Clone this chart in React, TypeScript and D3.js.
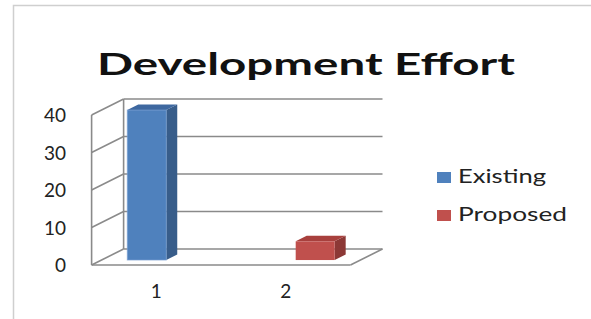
import React, { useEffect, useRef } from "react";
import * as d3 from "d3";

const categories = ["1", "2"];
const seriesNames = ["Existing", "Proposed"];
const existing = [40, 0];
const proposed = [0, 5];
const yTicks = [0, 10, 20, 30, 40];
const title = "Development Effort";

export default function App() {
  const ref = useRef<SVGSVGElement>(null);

  useEffect(() => {
    const svg = d3.select(ref.current);
    svg.selectAll("*").remove();

    const width = 591;
    const height = 319;
    const font = "Lato, 'Open Sans', sans-serif";

    // depth of the 3d box
    const dx = 32;
    const dy = -16;

    svg.append("rect").attr("width", width).attr("height", height).attr("fill", "#fff");

    // chart border
    svg
      .append("rect")
      .attr("x", 13.5)
      .attr("y", 5.5)
      .attr("width", 600)
      .attr("height", 330)
      .attr("fill", "none")
      .attr("stroke", "#cfcfcf")
      .attr("stroke-width", 1.5);

    svg
      .append("text")
      .attr("x", 97)
      .attr("y", 75)
      .attr("font-family", font)
      .attr("font-weight", "bold")
      .attr("font-size", 30)
      .attr("textLength", 418)
      .attr("lengthAdjust", "spacingAndGlyphs")
      .attr("fill", "#111")
      .text(title);

    const x = d3.scaleBand().domain(categories).range([91.6, 350.5]);
    const inner = d3
      .scaleBand()
      .domain(seriesNames)
      .range([0, x.bandwidth()])
      .paddingInner(0)
      .paddingOuter(0.66);
    const y = d3.scaleLinear().domain([0, 40]).range([265, 115]);

    const grid = svg.append("g").attr("stroke", "#8a8a8a").attr("stroke-width", 1.6).attr("fill", "none");
    const x0 = x.range()[0];
    const x1 = x.range()[1];

    yTicks.forEach((t) => {
      // left wall diagonal
      grid
        .append("line")
        .attr("x1", x0)
        .attr("y1", y(t))
        .attr("x2", x0 + dx)
        .attr("y2", y(t) + dy);
      // back wall line
      grid
        .append("line")
        .attr("x1", x0 + dx)
        .attr("y1", y(t) + dy)
        .attr("x2", x1 + dx)
        .attr("y2", y(t) + dy);
    });
    // wall verticals
    grid.append("line").attr("x1", x0).attr("y1", y(40)).attr("x2", x0).attr("y2", y(0));
    grid
      .append("line")
      .attr("x1", x0 + dx)
      .attr("y1", y(40) + dy)
      .attr("x2", x0 + dx)
      .attr("y2", y(0) + dy);
    // floor front and right edges
    grid.append("line").attr("x1", x0).attr("y1", y(0)).attr("x2", x1).attr("y2", y(0));
    grid
      .append("line")
      .attr("x1", x1)
      .attr("y1", y(0))
      .attr("x2", x1 + dx)
      .attr("y2", y(0) + dy);

    // bars
    const colors: Record<string, string[]> = {
      Existing: ["#4f81bd", "#385d8a", "#3e68a0"],
      Proposed: ["#c0504d", "#8c3836", "#a8403d"],
    };
    const values: Record<string, number[]> = { Existing: existing, Proposed: proposed };
    const f0 = 0.31;
    const bdx = 11;
    const bdy = -5.5;

    seriesNames.forEach((s) => {
      categories.forEach((c, i) => {
        const v = values[s][i];
        if (!v) return;
        const left = (x(c) ?? 0) + (inner(s) ?? 0) + dx * f0;
        const right = left + inner.bandwidth();
        const top = y(v) + dy * f0;
        const bottom = y(0) + dy * f0;
        const [front, side, topC] = colors[s];
        svg
          .append("path")
          .attr("d", `M${right},${top}L${right + bdx},${top + bdy}L${right + bdx},${bottom + bdy}L${right},${bottom}Z`)
          .attr("fill", side);
        svg
          .append("path")
          .attr("d", `M${left},${top}L${left + bdx},${top + bdy}L${right + bdx},${top + bdy}L${right},${top}Z`)
          .attr("fill", topC);
        svg
          .append("rect")
          .attr("x", left)
          .attr("y", top)
          .attr("width", right - left)
          .attr("height", bottom - top)
          .attr("fill", front)
          .attr("stroke", "#7fa4d6")
          .attr("stroke-opacity", s === "Existing" ? 0.6 : 0)
          .attr("stroke-width", 1);
      });
    });

    // y labels
    svg
      .append("g")
      .selectAll("text")
      .data(yTicks)
      .join("text")
      .attr("x", 66)
      .attr("y", (d) => y(d) + 7)
      .attr("text-anchor", "end")
      .attr("font-family", font)
      .attr("font-size", 19)
      .attr("fill", "#222")
      .text((d) => d);

    // x labels
    svg
      .append("g")
      .selectAll("text")
      .data(categories)
      .join("text")
      .attr("x", (d) => (x(d) ?? 0) + x.bandwidth() / 2)
      .attr("y", 298)
      .attr("text-anchor", "middle")
      .attr("font-family", font)
      .attr("font-size", 19)
      .attr("fill", "#222")
      .text((d) => d);

    // legend
    const legend = svg
      .append("g")
      .selectAll("g")
      .data(seriesNames)
      .join("g")
      .attr("transform", (d, i) => `translate(437,${172 + i * 38})`);
    legend
      .append("rect")
      .attr("width", 14)
      .attr("height", 11)
      .attr("fill", (d) => colors[d][0]);
    legend
      .append("text")
      .attr("x", 21)
      .attr("y", 11)
      .attr("font-family", font)
      .attr("font-size", 19)
      .attr("textLength", (d) => (d === "Existing" ? 88 : 109))
      .attr("lengthAdjust", "spacingAndGlyphs")
      .attr("fill", "#222")
      .text((d) => d);
  }, []);

  return (
    <svg
      ref={ref}
      width={591}
      height={319}
      style={{ position: "absolute", left: 0, top: 0, display: "block" }}
    />
  );
}
